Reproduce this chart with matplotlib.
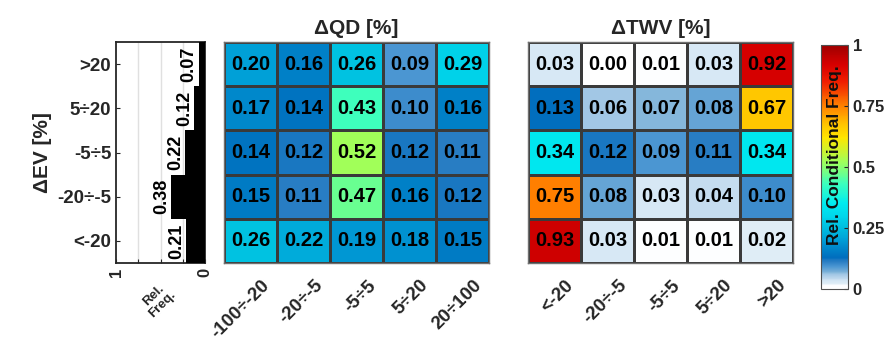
import numpy as np
import matplotlib
matplotlib.use("Agg")
import matplotlib.pyplot as plt
from matplotlib.colors import LinearSegmentedColormap

plt.rcParams['font.family'] = ['Liberation Sans', 'DejaVu Sans']
plt.rcParams['font.weight'] = 'bold'
plt.rcParams['axes.titleweight'] = 'bold'
plt.rcParams['axes.labelweight'] = 'bold'

ev_labels = ["<-20", "-20÷-5", "-5÷5", "5÷20", ">20"]          # bottom -> top
qd_labels = ["-100÷-20", "-20÷-5", "-5÷5", "5÷20", "20÷100"]
twv_labels = ["<-20", "-20÷-5", "-5÷5", "5÷20", ">20"]
ev_freq = [0.21, 0.38, 0.22, 0.12, 0.07]                        # bottom -> top

# rows listed top (>20) to bottom (<-20)
qd_vals = [[0.20, 0.16, 0.26, 0.09, 0.29],
           [0.17, 0.14, 0.43, 0.10, 0.16],
           [0.14, 0.12, 0.52, 0.12, 0.11],
           [0.15, 0.11, 0.47, 0.16, 0.12],
           [0.26, 0.22, 0.19, 0.18, 0.15]]
twv_vals = [[0.03, 0.00, 0.01, 0.03, 0.92],
            [0.13, 0.06, 0.07, 0.08, 0.67],
            [0.34, 0.12, 0.09, 0.11, 0.34],
            [0.75, 0.08, 0.03, 0.04, 0.10],
            [0.93, 0.03, 0.01, 0.01, 0.02]]

nodes = [(0.0, (255, 255, 255)), (0.012, (252, 253, 255)), (0.02, (222, 236, 246)),
         (0.03, (212, 230, 244)), (0.045, (188, 214, 236)), (0.06, (160, 198, 228)),
         (0.07, (120, 175, 215)), (0.09, (75, 150, 210)),
         (0.11, (40, 125, 195)), (0.13, (0, 110, 190)), (0.16, (0, 130, 200)),
         (0.20, (0, 160, 215)), (0.26, (0, 195, 225)), (0.30, (0, 215, 235)),
         (0.35, (0, 235, 240)), (0.43, (60, 255, 190)), (0.52, (160, 255, 90)),
         (0.62, (255, 230, 0)), (0.67, (255, 200, 0)), (0.75, (255, 130, 0)),
         (0.85, (240, 30, 0)), (0.92, (215, 0, 0)), (1.0, (160, 0, 0))]
cmap = LinearSegmentedColormap.from_list(
    "custom", [(p, tuple(c / 255 for c in col)) for p, col in nodes])

fig = plt.figure(figsize=(8.9, 3.47), dpi=100)
txtc = '#262626'
bottom = (347 - 263) / 347
height = (263 - 42) / 347

# --- bar axes
axb = fig.add_axes([116 / 890, bottom, 89 / 890, height])
y = np.arange(len(ev_labels))
axb.barh(y, ev_freq, height=1.0, color='black', zorder=3)
axb.set_xlim(1, 0)
axb.set_ylim(-0.5, len(ev_labels) - 0.5)
axb.set_xticks([1, 0.75, 0.5, 0.25, 0])
axb.set_xticklabels(["1", "", "", "", "0"], rotation=90, fontsize=12, color=txtc,
                    fontweight='bold')
for g in [0.25, 0.5, 0.75]:
    axb.axvline(g, color='#e0e0e0', lw=1, zorder=1)
axb.set_yticks(y)
axb.set_yticklabels(ev_labels, fontsize=13.5, color=txtc, fontweight='bold')
axb.tick_params(direction='in', length=3, color=txtc)
for s in axb.spines.values():
    s.set_linewidth(1.3)
    s.set_color(txtc)
for yi, v in zip(y, ev_freq):
    axb.text(v + 0.015, yi, f"{v:.2f}", rotation=90, ha='right', va='center',
             fontsize=13, color='black', zorder=4, fontweight='bold')
axb.set_ylabel("ΔEV [%]", fontsize=15, color=txtc, labelpad=4, fontweight='bold')
fig.text(158 / 890, 1 - 300 / 347, "Rel.\nFreq.", rotation=45, ha='center', va='center',
         fontsize=9.5, color=txtc, linespacing=1.0, fontweight='bold')

def heat(ax, vals, xlabels, title):
    arr = np.array(vals)[::-1]
    ax.pcolormesh(np.arange(6) - 0.5, np.arange(6) - 0.5, arr, cmap=cmap, vmin=0, vmax=1,
                  edgecolors='#3a3a3a', linewidth=0.8)
    for i in range(5):
        for j in range(5):
            ax.text(j, i, f"{arr[i, j]:.2f}", ha='center', va='center', fontsize=14.5,
                    color='black', fontweight='bold')
    ax.set_xlim(-0.5, 4.5)
    ax.set_ylim(-0.5, 4.5)
    ax.set_xticks(np.arange(5) + 0.2)
    ax.set_xticklabels(xlabels, rotation=45, ha='right', rotation_mode='anchor',
                       fontsize=13.5, color=txtc, fontweight='bold')
    ax.set_yticks([])
    ax.tick_params(length=0, pad=10)
    for s in ax.spines.values():
        s.set_color('#707070')
        s.set_linewidth(1.0)
    ax.set_title(title, fontsize=15, color=txtc, pad=6, fontweight='bold')

ax1 = fig.add_axes([224 / 890, bottom, 265 / 890, height])
heat(ax1, qd_vals, qd_labels, "ΔQD [%]")
ax2 = fig.add_axes([528 / 890, bottom, 265 / 890, height])
heat(ax2, twv_vals, twv_labels, "ΔTWV [%]")

# --- colorbar
cax = fig.add_axes([821 / 890, (347 - 289) / 347, 27 / 890, (289 - 45) / 347])
sm = matplotlib.cm.ScalarMappable(cmap=cmap, norm=matplotlib.colors.Normalize(0, 1))
cb = fig.colorbar(sm, cax=cax)
cb.set_ticks([0, 0.25, 0.5, 0.75, 1])
cb.set_ticklabels(["0", "0.25", "0.5", "0.75", "1"])
cax.tick_params(labelsize=12, colors=txtc, direction='in', length=3)
for t in cax.get_yticklabels():
    t.set_fontweight('bold')
cb.outline.set_edgecolor('#505050')
cax.text(0.5, 0.55, "Rel. Conditional Freq.", rotation=90, ha='center', va='center',
         fontsize=12.5, color='#101010', transform=cax.transAxes, fontweight='bold')

fig.savefig("out.png", dpi=100)
